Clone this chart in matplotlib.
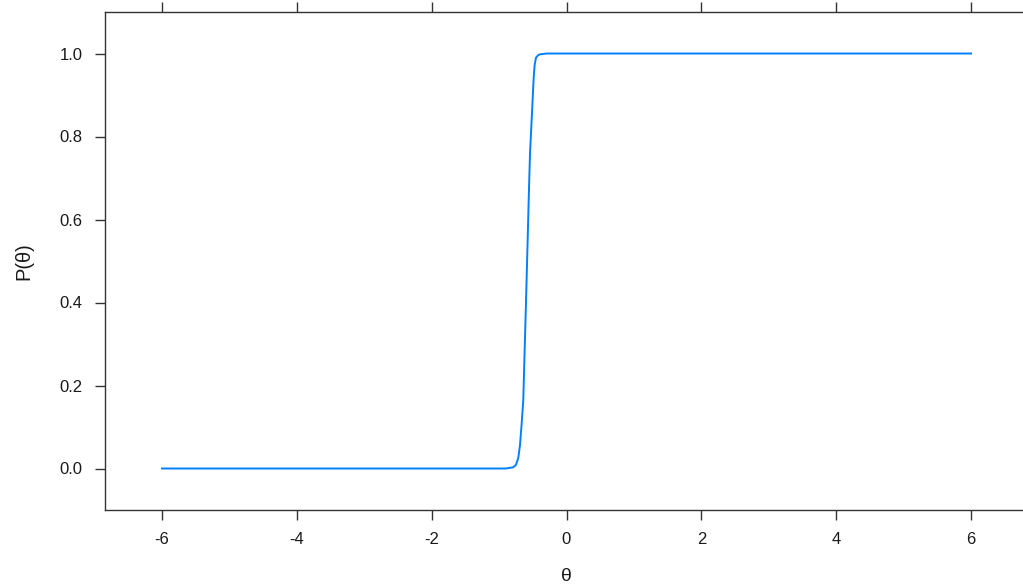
import matplotlib
matplotlib.use("Agg")
import matplotlib.pyplot as plt

# Values (theta, probability)
theta = [-6.0, -2.0, -1.2, -0.897, -0.789, -0.749, -0.715, -0.690, -0.665,
         -0.641, -0.626, -0.605, -0.576, -0.556, -0.541, -0.507, -0.487,
         -0.472, -0.452, -0.420, -0.393, -0.285, 0.0, 2.0, 6.0]
prob = [0.0, 0.0, 0.0, 0.0, 0.003, 0.009, 0.026, 0.056, 0.108,
        0.165, 0.255, 0.375, 0.551, 0.676, 0.760, 0.873, 0.941,
        0.973, 0.990, 0.996, 0.998, 1.0, 1.0, 1.0, 1.0]

xticks = [-6, -4, -2, 0, 2, 4, 6]
yticks = [0.0, 0.2, 0.4, 0.6, 0.8, 1.0]
ytick_labels = ["0.0", "0.2", "0.4", "0.6", "0.8", "1.0"]

plt.rcParams['font.family'] = ['Liberation Sans', 'DejaVu Sans']

fig = plt.figure(figsize=(10.23, 5.87), dpi=100)
ax = fig.add_axes([105 / 1023, 77 / 587, (1028 - 105) / 1023, (510 - 12) / 587])
ax.plot(theta, prob, color='#0080ff', lw=1.4)

ax.set_xlim(-6.845, 6.845)
ax.set_ylim(-0.1, 1.1)
ax.set_xticks(xticks)
ax.set_xticklabels([str(t) for t in xticks])
ax.set_yticks(yticks)
ax.set_yticklabels(ytick_labels)

for s in ax.spines.values():
    s.set_color('#333333')
    s.set_linewidth(1.0)
ax.spines['right'].set_visible(False)
ax.tick_params(axis='both', direction='out', length=7.5, width=1.0,
               color='#333333', labelsize=12, pad=8.5, labelcolor='#1a1a1a')
ax.tick_params(axis='x', top=True, labeltop=False)
ax.tick_params(axis='y', right=False)

ax.set_xlabel('θ', fontsize=14, color='#1a1a1a', labelpad=15)
ax.set_ylabel('P(θ)', fontsize=14.5, color='#1a1a1a', labelpad=19)

fig.savefig('out.png', dpi=100)
